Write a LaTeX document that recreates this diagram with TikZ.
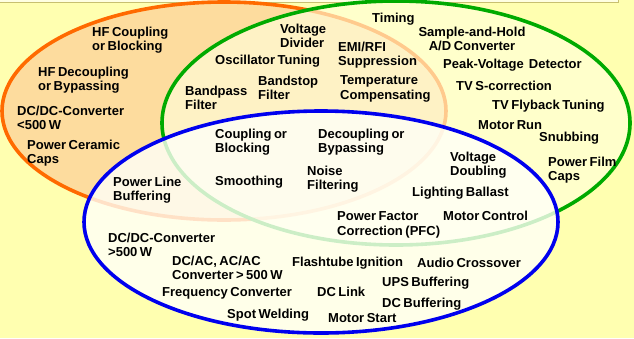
\documentclass[tikz,border=0pt]{standalone}
\usepackage{fontspec}
\setmainfont{Liberation Sans}[WordSpace=0.7]
\definecolor{bgyellow}{HTML}{FFFFB0}
\definecolor{barfill}{HTML}{FFFFE2}
\definecolor{barline}{HTML}{C8C070}
\definecolor{ringorange}{HTML}{FF6A00}
\definecolor{fillorange}{HTML}{FDDC9E}
\definecolor{ringgreen}{HTML}{00AA00}
\definecolor{fillgreen}{HTML}{FFFFDA}
\definecolor{ringblue}{HTML}{0000EE}
\definecolor{fillblue}{HTML}{FFFFF8}
\begin{document}
\begin{tikzpicture}[x=1pt, y=-1pt,
    ring/.style={line width=3.6pt},
    lbl/.style={anchor=west, inner sep=0pt, align=left,
                font=\fontsize{13}{14.5}\selectfont\bfseries}]
  \useasboundingbox (0,0) rectangle (634,338);
  \fill[bgyellow] (0,0) rectangle (634,338);
  \draw[barline, fill=barfill, line width=1pt] (-5,-5) rectangle (618,2);
  \draw[ring, ringorange, fill=fillorange] (224,111) ellipse [x radius=222, y radius=109];
  \draw[ring, ringgreen, fill=fillgreen, fill opacity=0.65] (396,123) ellipse [x radius=234, y radius=122];
  \draw[ring, ringblue, fill=fillblue, fill opacity=0.8] (321,222) ellipse [x radius=237, y radius=111];
  \foreach \n/\x/\y/\t in {
      hfcoup/92/40/{HF Coupling\\or Blocking},
      hfdecoup/38/80/{HF Decoupling\\or Bypassing},
      dclow/17/118/{DC/DC-Converter\\<500 W},
      ceramic/27/153/{Power Ceramic\\Caps},
      vdiv/280/36/{Voltage\\Divider},
      osc/215/61/{Oscillator Tuning},
      emi/338/55/{EMI/RFI\\Suppression},
      bstop/258/88/{Bandstop\\Filter},
      bpass/185/98/{Bandpass\\Filter},
      temp/340/89/{Temperature\\Compensating},
      timing/372/19/{Timing},
      peak/443/65/{Peak-Voltage\ \ Detector},
      tvs/456/86/{TV S-correction},
      tvfly/492/106/{TV Flyback Tuning},
      mrun/478/125/{Motor Run},
      snub/539/138/{Snubbing},
      film/548/170/{Power Film\\Caps},
      vdoub/450/165/{Voltage\\Doubling},
      light/412/193/{Lighting Ballast},
      coup/215/142/{Coupling or\\Blocking},
      decoup/318/142/{Decoupling or\\Bypassing},
      pline/113/190/{Power Line\\Buffering},
      smooth/215/182/{Smoothing},
      noise/307/179/{Noise\\Filtering},
      pfc/337/225/{Power Factor\\Correction (PFC)},
      mctrl/443/216/{Motor Control},
      dchigh/108/245/{DC/DC-Converter\\>500 W},
      dcac/172/268/{DC/AC, AC/AC\\Converter > 500 W},
      freq/162/293/{Frequency Converter},
      spot/227/315/{Spot Welding},
      flash/292/263/{Flashtube Ignition},
      dclink/317/292/{DC Link},
      mstart/328/318/{Motor Start},
      audio/417/263/{Audio Crossover},
      ups/382/283/{UPS Buffering},
      dcbuf/382/304/{DC Buffering}}
    \node[lbl] (\n) at (\x,\y) {\t};
  \node[lbl, anchor=center, align=center] (sah) at (472,39) {Sample-and-Hold\\A/D Converter};
\end{tikzpicture}
\end{document}
